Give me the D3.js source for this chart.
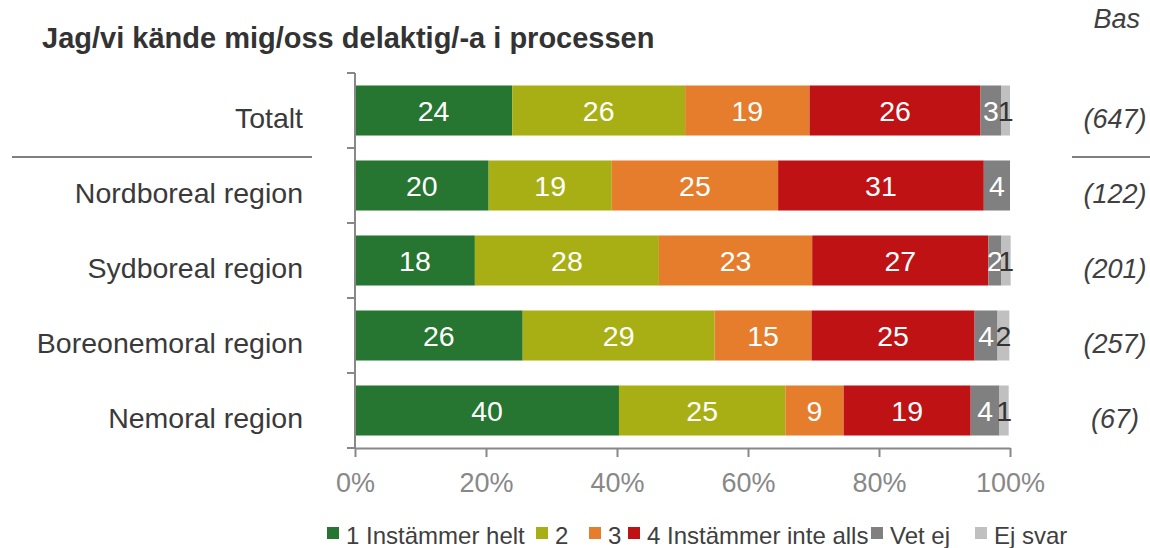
<!DOCTYPE html>
<html><head><meta charset="utf-8">
<script src="https://cdn.jsdelivr.net/npm/d3@7"></script>
<style>body{margin:0;background:#fff;} text{font-family:"Liberation Sans",Arial,sans-serif;}</style>
</head><body>
<svg id="chart" width="1150" height="548"></svg>
<script>
const title = "Jag/vi kände mig/oss delaktig/-a i processen";
const categories = ["Totalt","Nordboreal region","Sydboreal region","Boreonemoral region","Nemoral region"];
const seriesNames = ["1 Instämmer helt","2","3","4 Instämmer inte alls","Vet ej","Ej svar"];
const seriesColors = ["#267530","#a8af14","#e57d2c","#bf1215","#808080","#c0c0c0"];
const labelColors = ["#fff","#fff","#fff","#fff","#fff","#333"];
const s1 = [24.0, 20.4, 18.3, 25.6, 40.3];
const s2 = [26.4, 18.8, 28.1, 29.3, 25.4];
const s3 = [19.0, 25.4, 23.4, 14.8, 8.9];
const s4 = [26.1, 31.4, 26.9, 24.9, 19.4];
const s5 = [3.2, 4.0, 2.0, 3.5, 4.4];
const s6 = [1.3, 0, 1.4, 1.8, 1.4];
const bases = ["(647)","(122)","(201)","(257)","(67)"];
const ticks = [0,20,40,60,80,100];
const basHeader = "Bas";

const series = [s1,s2,s3,s4,s5,s6];
const rows = categories.map((c,i)=>{
  const o={cat:c}; series.forEach((s,j)=>o["s"+j]=s[i]); return o;});
const keys = series.map((s,j)=>"s"+j);
const stack = d3.stack().keys(keys)(rows);

const svg = d3.select("#chart");
const x = d3.scaleLinear().domain([0,100]).range([355,1010]);
const y = d3.scaleBand().domain(categories).range([73,448]).paddingInner(0.333).paddingOuter(0.1665);

// title
svg.append("text").attr("x",42).attr("y",48).attr("font-size",29).attr("font-weight","bold")
  .attr("fill","#333").text(title);
svg.append("text").attr("x",1140).attr("y",28).attr("text-anchor","end").attr("font-size",27)
  .attr("font-style","italic").attr("fill","#404040").text(basHeader);

// bars
const g = svg.append("g");
stack.forEach((layer,j)=>{
  g.selectAll(null).data(layer).enter().append("rect")
    .attr("x",d=>x(d[0])).attr("width",d=>x(d[1])-x(d[0]))
    .attr("y",d=>y(d.data.cat)).attr("height",y.bandwidth())
    .attr("fill",seriesColors[j]);
});
stack.forEach((layer,j)=>{
  g.selectAll(null).data(layer.filter(d=>d[1]-d[0]>0)).enter().append("text")
    .attr("x",d=>(x(d[0])+x(d[1]))/2).attr("y",d=>y(d.data.cat)+y.bandwidth()/2+10)
    .attr("text-anchor","middle").attr("font-size",28.5).attr("fill",labelColors[j])
    .text(d=>Math.round(d[1]-d[0]));
});

// y axis
const yAxisG = svg.append("g");
yAxisG.append("line").attr("x1",355).attr("x2",355).attr("y1",73).attr("y2",448).attr("stroke","#888").attr("stroke-width",2);
const bounds = categories.map(c=>y(c)-y.step()*y.paddingInner()/2).concat([448]);
bounds[0]=73;
yAxisG.selectAll(null).data(bounds).enter().append("line")
  .attr("x1",347).attr("x2",355).attr("y1",d=>d).attr("y2",d=>d).attr("stroke","#888").attr("stroke-width",2);
svg.append("g").selectAll(null).data(categories).enter().append("text")
  .attr("x",303).attr("y",c=>y(c)+y.bandwidth()/2+17).attr("text-anchor","end")
  .attr("font-size",28.5).attr("fill","#3a3a3a").text(c=>c);
svg.append("g").selectAll(null).data(bases).enter().append("text")
  .attr("x",1115).attr("y",(b,i)=>y(categories[i])+y.bandwidth()/2+17).attr("text-anchor","middle")
  .attr("font-size",27).attr("font-style","italic").attr("fill","#404040").text(b=>b);

// separators
svg.append("line").attr("x1",12).attr("x2",312).attr("y1",157).attr("y2",157).attr("stroke","#808080").attr("stroke-width",2);
svg.append("line").attr("x1",1072).attr("x2",1150).attr("y1",157).attr("y2",157).attr("stroke","#808080").attr("stroke-width",2);

// x axis
const xAxis = d3.axisBottom(x).tickValues(ticks).tickSize(9).tickSizeOuter(0).tickFormat(d=>d+"%");
const xg = svg.append("g").attr("transform","translate(0,448)").call(xAxis);
xg.select(".domain").attr("stroke","#888").attr("stroke-width",2);
xg.selectAll(".tick line").attr("stroke","#888").attr("stroke-width",2);
xg.selectAll(".tick text").attr("font-size",27).attr("fill","#888").attr("dy",null).attr("y",44)
  .attr("font-family","Liberation Sans, Arial, sans-serif");

// legend
const legendX = [327,536,589,628,871,975];
const lg = svg.append("g");
seriesNames.forEach((n,j)=>{
  lg.append("rect").attr("x",legendX[j]).attr("y",527).attr("width",12).attr("height",12).attr("fill",seriesColors[j]);
  lg.append("text").attr("x",legendX[j]+19).attr("y",544).attr("font-size",24).attr("fill","#404040").text(n);
});
</script>
</body></html>
